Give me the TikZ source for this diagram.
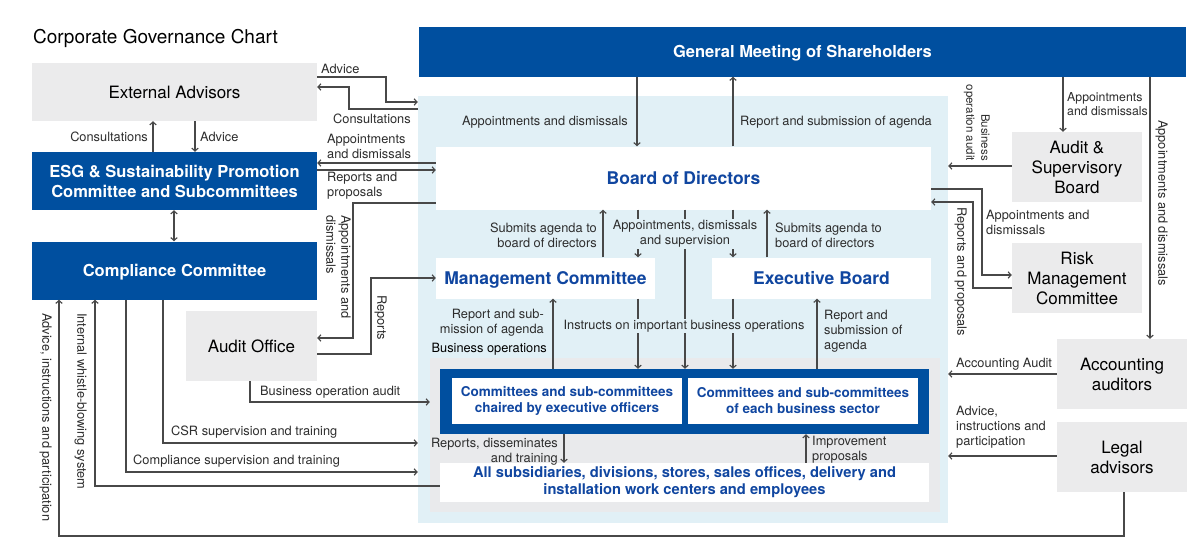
\documentclass[tikz,border=0pt]{standalone}
\usepackage{fontspec}
\setmainfont{TeX Gyre Heros}
\usetikzlibrary{arrows.meta}
\definecolor{dblue}{RGB}{0,79,159}
\definecolor{lbg}{RGB}{225,240,246}
\definecolor{gbox}{RGB}{235,235,236}
\definecolor{gzone}{RGB}{233,234,236}
\definecolor{tblue}{RGB}{16,70,160}
\definecolor{lcol}{RGB}{72,72,72}
\definecolor{tcol}{RGB}{45,45,45}
\begin{document}
\begin{tikzpicture}[x=1pt,y=-1pt,
 bx/.style={rectangle, inner sep=0pt, align=center},
 capc/.style={text height=#1pt, text depth=0pt},
 gbx/.style={bx, fill=gbox, text=black, font=\fontsize{17}{20}\selectfont},
 bbx/.style={bx, fill=dblue, text=white, font=\bfseries\fontsize{16.5}{20}\selectfont},
 wbx/.style={bx, fill=white, text=tblue, font=\bfseries\fontsize{17.5}{20}\selectfont},
 wsbx/.style={bx, fill=white, text=tblue, font=\bfseries\fontsize{13.5}{16}\selectfont},
 lbl/.style={inner sep=0pt, text=tcol, font=\fontsize{12.8}{15}\selectfont},
 arr/.style={draw=lcol, line width=1.1pt, -{Straight Barb[length=3pt,width=6.5pt]}},
 arrb/.style={draw=lcol, line width=1.1pt, {Straight Barb[length=3pt,width=6.5pt]}-{Straight Barb[length=3pt,width=6.5pt]}},
]
\fill[white] (0,0) rectangle (1200,552);
\useasboundingbox (0,0) rectangle (1200,552);

% title
\node[anchor=west, inner sep=0pt, font=\fontsize{19}{21}\selectfont, text=black, capc=13.7] (title) at (33,37) {Corporate Governance Chart};

% backgrounds
\node[bx, fill=lbg, minimum width=530pt, minimum height=427pt] (lb) at (683,309.5) {};
\node[bx, fill=gzone, minimum width=510pt, minimum height=154pt] (gz) at (685,435) {};

% left boxes
\node[gbx, capc=12.2, minimum width=285pt, minimum height=58pt] (ea) at (174.5,92) {External Advisors};
\node[bbx, minimum width=285pt, minimum height=58pt] (esg) at (174.5,181) {ESG \& Sustainability Promotion\\Committee and Subcommittees};
\node[bbx, capc=11.9, minimum width=285pt, minimum height=58pt] (cc) at (174.5,270.5) {Compliance Committee};
\node[gbx, capc=12.2, minimum width=131pt, minimum height=70pt] (ao) at (251.5,346) {Audit Office};

% top
\node[bbx, capc=11.9, minimum width=767pt, minimum height=50pt] (gm) at (802.5,51.5) {General Meeting of Shareholders};

% centre boxes
\node[wbx, capc=12.6, minimum width=495pt, minimum height=63pt] (bod) at (683.5,178) {Board of Directors};
\node[wbx, capc=12.6, minimum width=219pt, minimum height=41pt] (mc) at (545.5,278) {Management Committee};
\node[wbx, capc=12.6, minimum width=219pt, minimum height=41pt] (eb) at (821.5,278) {Executive Board};
\node[bx, fill=dblue, minimum width=489pt, minimum height=65pt] (dk) at (684.5,401.5) {};
\node[wsbx, minimum width=230pt, minimum height=46pt] (c1) at (567,401) {Committees and sub-committees\\chaired by executive officers};
\node[wsbx, minimum width=230pt, minimum height=46pt] (c2) at (803,401) {Committees and sub-committees\\of each business sector};
\node[wsbx, font=\bfseries\fontsize{14.7}{17}\selectfont, minimum width=489pt, minimum height=39pt] (subs) at (684.5,482.5) {All subsidiaries, divisions, stores, sales offices, delivery and\\installation work centers and employees};

% right boxes
\node[gbx, minimum width=130pt, minimum height=70pt] (asb) at (1077,167) {Audit \&\\Supervisory\\Board};
\node[gbx, minimum width=130pt, minimum height=70pt] (rmc) at (1077,278) {Risk\\Management\\Committee};
\node[gbx, minimum width=130pt, minimum height=70pt] (acc) at (1122,374) {Accounting\\auditors};
\node[gbx, minimum width=130pt, minimum height=70pt] (lega) at (1122,457) {Legal\\advisors};

% ---- left side connectors
\draw[arr] (ea.east |- 0,77) -- (386,77) -- (386,102) -- (lb.west |- 0,102);
\node[lbl, anchor=west] (l1) at (321,69) {Advice};
\draw[arr] (lb.west |- 0,109) -- (349,109) -- (349,87) -- (ea.east |- 0,87);
\node[lbl, anchor=west] (l2) at (333,119) {Consultations};

\draw[arr] (esg.north -| 153,0) -- (ea.south -| 153,0);
\node[lbl, anchor=east] (l3) at (148,137) {Consultations};
\draw[arr] (ea.south -| 195,0) -- (esg.north -| 195,0);
\node[lbl, anchor=west] (l4) at (200,137) {Advice};
\draw[arrb] (esg.south -| 174,0) -- (cc.north -| 174,0);

\draw[arr] (bod.west |- 0,163) -- (esg.east |- 0,163);
\node[lbl, anchor=west, align=left] (l5) at (327,146) {Appointments\\and dismissals};
\draw[arr] (esg.east |- 0,170) -- (bod.west |- 0,170);
\node[lbl, anchor=west, align=left] (l6) at (327,186) {Reports and\\proposals};

\draw[arr] (bod.west |- 0,203) -- (353,203) -- (353,338) -- (ao.east |- 0,338);
\node[lbl, rotate=-90, anchor=north west, align=left] (l7) at (351,215) {Appointments and\\dismissals};
\draw[arr] (ao.east |- 0,354) -- (371,354) -- (371,278) -- (mc.west |- 0,278);
\node[lbl, rotate=-90, anchor=north west] (l8) at (387,295) {Reports};

\draw[arr] (ao.south -| 250,0) -- (250,402) -- (gz.west |- 0,402);
\node[lbl, anchor=west] (l9) at (260,392) {Business operation audit};
\draw[arr] (cc.south -| 163,0) -- (163,443) -- (lb.west |- 0,443);
\node[lbl, anchor=west] (l10) at (171,432) {CSR supervision and training};
\draw[arr] (cc.south -| 126,0) -- (126,472) -- (lb.west |- 0,472);
\node[lbl, anchor=west] (l11) at (133,461) {Compliance supervision and training};
\draw[arr] (subs.west |- 0,486) -- (95,486) -- (cc.south -| 95,0);
\node[lbl, rotate=-90, anchor=north west] (l12) at (87,313) {Internal whistle-blowing system};
\draw[arr] (lega.south -| 1124,0) -- (1124,536) -- (59,536) -- (cc.south -| 59,0);
\node[lbl, rotate=-90, anchor=north west] (l13) at (52,313) {Advice, instructions and participation};

% ---- centre connectors
\draw[arr] (gm.south -| 637,0) -- (bod.north -| 637,0);
\node[lbl, anchor=east] (l14) at (628,122) {Appointments and dismissals};
\draw[arr] (bod.north -| 733,0) -- (gm.south -| 733,0);
\node[lbl, anchor=west] (l15) at (740,122) {Report and submission of agenda};

\draw[arr] (mc.north -| 603,0) -- (bod.south -| 603,0);
\node[lbl, anchor=east, align=right] (l16) at (597,235) {Submits agenda to\\board of directors};
\draw[arr] (eb.north -| 767,0) -- (bod.south -| 767,0);
\node[lbl, anchor=west, align=left] (l17) at (775,235) {Submits agenda to\\board of directors};

\draw[arr] (bod.south -| 638,0) -- (mc.north -| 638,0);
\draw[arr] (bod.south -| 685,0) -- (dk.north -| 685,0);
\draw[arr] (bod.south -| 733,0) -- (eb.north -| 733,0);
\draw[arr] (mc.south -| 638,0) -- (dk.north -| 638,0);
\draw[arr] (eb.south -| 733,0) -- (dk.north -| 733,0);
\node[lbl, fill=lbg, inner sep=1.5pt, align=center] (l18) at (685,234) {Appointments, dismissals\\and supervision};
\node[lbl, fill=lbg, inner sep=1pt] (l19) at (684,326) {Instructs on important business operations};

\draw[arr] (dk.north -| 553,0) -- (mc.south -| 553,0);
\node[lbl, anchor=east, align=right] (l20) at (544,323) {Report and sub-\\mission of agenda};
\node[lbl, anchor=east, text=black] (l21) at (547,349) {Business operations};
\draw[arr] (dk.north -| 817,0) -- (eb.south -| 817,0);
\node[lbl, anchor=west, align=left] (l22) at (824,331) {Report and\\submission of\\agenda};

\draw[arr] (dk.south -| 564,0) -- (subs.north -| 564,0);
\node[lbl, anchor=east, align=right] (l23) at (558,452) {Reports, disseminates\\and training};
\draw[arr] (subs.north -| 806,0) -- (dk.south -| 806,0);
\node[lbl, anchor=west, align=left] (l24) at (812,450) {Improvement\\proposals};

% ---- right connectors
\draw[arr] (gm.south -| 1063,0) -- (asb.north -| 1063,0);
\node[lbl, anchor=west, align=left, font=\fontsize{12.3}{14}\selectfont] (l25) at (1067,104) {Appointments\\and dismissals};
\draw[arr] (gm.south -| 1150,0) -- (acc.north -| 1150,0);
\node[lbl, rotate=-90, anchor=north west] (l26) at (1168,120) {Appointments and dismissals};

\draw[arr] (asb.west |- 0,166) -- (lb.east |- 0,166);
\node[lbl, rotate=-90, anchor=north east, align=right, font=\fontsize{11.5}{15}\selectfont] (l27) at (990,161) {Business\\operation audit};

\draw[arr] (bod.east |- 0,189) -- (982,189) -- (982,275) -- (rmc.west |- 0,275);
\node[lbl, anchor=west, align=left] (l28) at (986,222) {Appointments and\\dismissals};
\draw[arr] (rmc.west |- 0,288) -- (973,288) -- (973,202) -- (bod.east |- 0,202);
\node[lbl, rotate=-90, anchor=north west] (l29) at (967,207) {Reports and proposals};

\draw[arr] (acc.west |- 0,374) -- (lb.east |- 0,374);
\node[lbl, anchor=west] (l30) at (956,364) {Accounting Audit};
\draw[arr] (lega.west |- 0,456) -- (lb.east |- 0,456);
\node[lbl, anchor=west, align=left] (l31) at (956,427) {Advice,\\instructions and\\participation};
\end{tikzpicture}
\end{document}
